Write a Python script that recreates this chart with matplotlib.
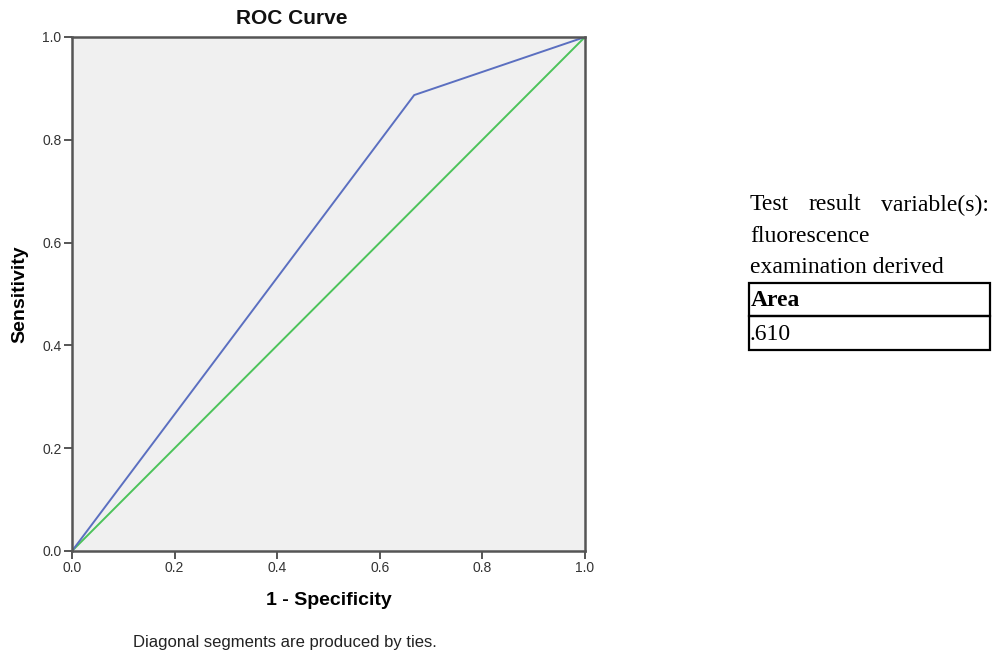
import numpy as np
import matplotlib
matplotlib.use('Agg')
import matplotlib.pyplot as plt
from matplotlib.patches import Rectangle

# ROC curve points (1 - specificity, sensitivity)
fpr = [0.0, 0.667, 1.0]
tpr = [0.0, 0.887, 1.0]
ref = [0.0, 1.0]
ticks = [0.0, 0.2, 0.4, 0.6, 0.8, 1.0]
area_label = 'Area'
area_value = '.610'
header_words = ['Test', 'result', 'variable(s):']
header_lines = ['fluorescence', 'examination derived']

plt.rcParams['font.family'] = ['Liberation Sans', 'DejaVu Sans']

W, H = 995, 656
fig = plt.figure(figsize=(W/100, H/100), dpi=100)
ax = fig.add_axes([72/W, 1-551/H, (585-72)/W, (551-37)/H])
ax.set_facecolor('#f0f0f0')
ax.plot(ref, ref, color='#4cc35a', lw=1.4)
ax.plot(fpr, tpr, color='#5b6fc0', lw=1.4)
ax.set_xlim(0, 1)
ax.set_ylim(0, 1)
ax.set_xticks(ticks)
ax.set_yticks(ticks)
ax.set_xticklabels(['%.1f' % t for t in ticks])
ax.set_yticklabels(['%.1f' % t for t in ticks])
ax.tick_params(direction='out', length=6, width=1.4, color='#555555',
               labelsize=10, labelcolor='#333333', pad=1.5)
for s in ax.spines.values():
    s.set_color('#555555')
    s.set_linewidth(1.8)
ax.set_xlabel('1 - Specificity', fontsize=14, fontweight='bold', labelpad=12)
ax.set_ylabel('Sensitivity', fontsize=14, fontweight='bold', labelpad=10)

fig.text(292/W, 1-19/H, 'ROC Curve', ha='center', va='center',
         fontsize=15, fontweight='bold', color='#111111')
fig.text(285/W, 1-643/H, 'Diagonal segments are produced by ties.',
         ha='center', va='center', fontsize=12, color='#222222')

# table on the right
serif = ['Liberation Serif', 'DejaVu Serif']
fs = 17
x0, x1 = 750/W, 989/W
y1 = 1-205/H
t_left = fig.text(x0, y1, header_words[0], ha='left', va='center', family=serif, fontsize=fs)
t_right = fig.text(x1, y1, header_words[2], ha='right', va='center', family=serif, fontsize=fs)
t_mid = fig.text(x0, y1, header_words[1], ha='left', va='center', family=serif, fontsize=fs)
r = fig.canvas.get_renderer()
wl = t_left.get_window_extent(r).width / (W)
wr = t_right.get_window_extent(r).width / (W)
wm = t_mid.get_window_extent(r).width / (W)
gap = (x1 - x0 - wl - wr - wm) / 2
t_mid.set_x(x0 + wl + gap)

fig.text(x0, 1-237/H, header_lines[0], ha='left', va='center', family=serif, fontsize=fs)
fig.text(x0, 1-268/H, header_lines[1], ha='left', va='center', family=serif, fontsize=fs)

bx0, bx1 = 749/W, 990/W
for ytop, ybot in [(283, 316), (316, 350)]:
    fig.add_artist(Rectangle((bx0, 1-ybot/H), bx1-bx0, (ybot-ytop)/H,
                             transform=fig.transFigure, fill=False,
                             edgecolor='black', lw=1.6))
fig.text(bx0+0.002, 1-301/H, area_label, ha='left', va='center', family=serif,
         fontsize=fs, fontweight='bold')
fig.text(bx0+0.001, 1-335/H, area_value, ha='left', va='center', family=serif,
         fontsize=fs)

fig.savefig('out.png', dpi=100)
